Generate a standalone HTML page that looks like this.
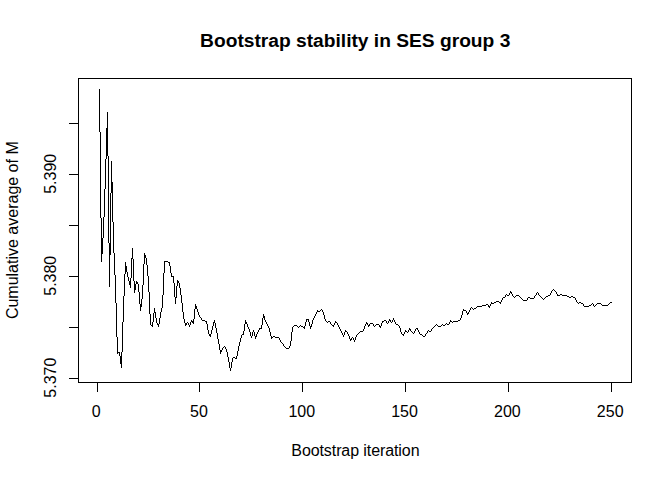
<!DOCTYPE html>
<html><head><meta charset="utf-8"><style>
html,body{margin:0;padding:0;background:#fff;}
svg{display:block;}
text{font-family:"Liberation Sans",sans-serif;font-size:16px;fill:#000;}
</style></head><body>
<svg width="672" height="480" viewBox="0 0 672 480">
<rect x="0" y="0" width="672" height="480" fill="#fff"/>
<text x="355.2" y="46.6" text-anchor="middle" style="font-weight:bold;font-size:19.2px">Bootstrap stability in SES group 3</text>
<rect x="78.5" y="78.5" width="553" height="304" fill="none" stroke="#000" stroke-width="1"/>
<g stroke="#000" stroke-width="1" fill="none"><line x1="97.5" y1="382.5" x2="97.5" y2="392" /><line x1="199.5" y1="382.5" x2="199.5" y2="392" /><line x1="302.5" y1="382.5" x2="302.5" y2="392" /><line x1="405.5" y1="382.5" x2="405.5" y2="392" /><line x1="508.5" y1="382.5" x2="508.5" y2="392" /><line x1="611.5" y1="382.5" x2="611.5" y2="392" /><line x1="69" y1="378.5" x2="78.5" y2="378.5" /><line x1="69" y1="327.5" x2="78.5" y2="327.5" /><line x1="69" y1="276.5" x2="78.5" y2="276.5" /><line x1="69" y1="225.5" x2="78.5" y2="225.5" /><line x1="69" y1="174.5" x2="78.5" y2="174.5" /><line x1="69" y1="123.5" x2="78.5" y2="123.5" /></g>
<path d="M99 89h1v43h-1zM100 132h1v86h-1zM101 218h1v44h-1zM102 238h1v16h-1zM103 217h1v21h-1zM104 189h1v28h-1zM105 159h1v30h-1zM106 128h1v31h-1zM107 112h1v44h-1zM108 156h1v87h-1zM109 243h1v44h-1zM110 193h1v62h-1zM111 161h1v32h-1zM112 182h1v40h-1zM113 222h1v31h-1zM114 253h1v22h-1zM115 275h1v28h-1zM116 303h1v34h-1zM117 337h1v17h-1zM118 352h1v1h-1zM119 352h1v4h-1zM120 356h1v8h-1zM121 352h1v16h-1zM122 322h1v30h-1zM123 296h1v26h-1zM124 274h1v22h-1zM125 262h1v12h-1zM126 266h1v6h-1zM127 272h1v5h-1zM128 277h1v4h-1zM129 281h1v4h-1zM130 278h1v10h-1zM131 258h1v20h-1zM132 248h1v11h-1zM133 259h1v22h-1zM134 281h1v12h-1zM135 284h1v6h-1zM136 281h1v3h-1zM137 282h1v2h-1zM138 284h1v8h-1zM139 292h1v12h-1zM140 304h1v7h-1zM141 299h1v8h-1zM142 285h1v14h-1zM143 264h1v21h-1zM144 253h1v11h-1zM145 255h1v3h-1zM146 258h1v7h-1zM147 265h1v11h-1zM148 276h1v16h-1zM149 292h1v22h-1zM150 314h1v11h-1zM151 325h1v1h-1zM152 322h1v5h-1zM153 313h1v9h-1zM154 308h1v5h-1zM155 312h1v6h-1zM156 318h1v5h-1zM157 323h1v2h-1zM158 324h1v3h-1zM159 318h1v6h-1zM160 312h1v6h-1zM161 308h1v4h-1zM162 295h1v13h-1zM163 273h1v22h-1zM164 261h1v12h-1zM165 261h1v1h-1zM166 261h1v1h-1zM167 261h1v1h-1zM168 262h1v1h-1zM169 262h1v4h-1zM170 266h1v7h-1zM171 273h1v4h-1zM172 276h1v1h-1zM173 276h1v7h-1zM174 283h1v14h-1zM175 297h1v7h-1zM176 286h1v12h-1zM177 280h1v6h-1zM178 281h1v2h-1zM179 283h1v5h-1zM180 288h1v7h-1zM181 295h1v8h-1zM182 303h1v9h-1zM183 312h1v7h-1zM184 319h1v4h-1zM185 323h1v3h-1zM186 323h1v2h-1zM187 322h1v1h-1zM188 323h1v2h-1zM189 325h1v2h-1zM190 322h1v3h-1zM191 320h1v2h-1zM192 321h1v2h-1zM193 319h1v5h-1zM194 309h1v10h-1zM195 304h1v5h-1zM196 306h1v3h-1zM197 309h1v3h-1zM198 312h1v3h-1zM199 315h1v2h-1zM200 317h1v1h-1zM201 318h1v2h-1zM202 320h1v1h-1zM203 320h1v1h-1zM204 320h1v1h-1zM205 321h1v1h-1zM206 321h1v3h-1zM207 324h1v6h-1zM208 330h1v4h-1zM209 334h1v2h-1zM210 334h1v3h-1zM211 330h1v4h-1zM212 326h1v4h-1zM213 322h1v4h-1zM214 320h1v3h-1zM215 323h1v5h-1zM216 328h1v5h-1zM217 333h1v6h-1zM218 339h1v5h-1zM219 344h1v6h-1zM220 350h1v4h-1zM221 350h1v2h-1zM222 348h1v2h-1zM223 347h1v1h-1zM224 346h1v1h-1zM225 347h1v2h-1zM226 349h1v3h-1zM227 352h1v5h-1zM228 357h1v5h-1zM229 362h1v6h-1zM230 368h1v3h-1zM231 362h1v6h-1zM232 358h1v4h-1zM233 357h1v1h-1zM234 357h1v1h-1zM235 358h1v1h-1zM236 356h1v3h-1zM237 351h1v5h-1zM238 346h1v5h-1zM239 342h1v4h-1zM240 338h1v4h-1zM241 335h1v3h-1zM242 334h1v1h-1zM243 331h1v4h-1zM244 324h1v7h-1zM245 320h1v4h-1zM246 322h1v2h-1zM247 324h1v3h-1zM248 327h1v2h-1zM249 329h1v3h-1zM250 332h1v4h-1zM251 336h1v2h-1zM252 332h1v4h-1zM253 330h1v2h-1zM254 332h1v4h-1zM255 336h1v3h-1zM256 334h1v3h-1zM257 332h1v2h-1zM258 330h1v2h-1zM259 328h1v2h-1zM260 328h1v1h-1zM261 325h1v4h-1zM262 318h1v7h-1zM263 314h1v4h-1zM264 316h1v4h-1zM265 320h1v2h-1zM266 322h1v2h-1zM267 324h1v2h-1zM268 326h1v2h-1zM269 328h1v4h-1zM270 332h1v4h-1zM271 336h1v3h-1zM272 337h1v1h-1zM273 336h1v1h-1zM274 336h1v1h-1zM275 337h1v1h-1zM276 337h1v1h-1zM277 337h1v1h-1zM278 337h1v1h-1zM279 338h1v2h-1zM280 340h1v2h-1zM281 342h1v1h-1zM282 343h1v1h-1zM283 344h1v2h-1zM284 346h1v1h-1zM285 347h1v1h-1zM286 348h1v1h-1zM287 348h1v1h-1zM288 348h1v1h-1zM289 346h1v2h-1zM290 341h1v5h-1zM291 332h1v9h-1zM292 327h1v5h-1zM293 326h1v1h-1zM294 325h1v1h-1zM295 325h1v1h-1zM296 325h1v1h-1zM297 326h1v1h-1zM298 327h1v1h-1zM299 326h1v1h-1zM300 325h1v1h-1zM301 326h1v1h-1zM302 326h1v1h-1zM303 327h1v1h-1zM304 326h1v3h-1zM305 322h1v4h-1zM306 319h1v3h-1zM307 319h1v1h-1zM308 319h1v3h-1zM309 322h1v4h-1zM310 326h1v3h-1zM311 324h1v3h-1zM312 320h1v4h-1zM313 318h1v2h-1zM314 316h1v2h-1zM315 314h1v2h-1zM316 312h1v2h-1zM317 310h1v2h-1zM318 311h1v1h-1zM319 311h1v1h-1zM320 310h1v1h-1zM321 309h1v1h-1zM322 310h1v2h-1zM323 312h1v3h-1zM324 315h1v4h-1zM325 319h1v2h-1zM326 321h1v1h-1zM327 322h1v1h-1zM328 321h1v1h-1zM329 321h1v1h-1zM330 322h1v2h-1zM331 324h1v1h-1zM332 325h1v1h-1zM333 325h1v2h-1zM334 323h1v2h-1zM335 321h1v2h-1zM336 322h1v1h-1zM337 323h1v2h-1zM338 325h1v2h-1zM339 327h1v2h-1zM340 329h1v2h-1zM341 331h1v2h-1zM342 333h1v2h-1zM343 335h1v2h-1zM344 332h1v3h-1zM345 330h1v2h-1zM346 331h1v1h-1zM347 332h1v2h-1zM348 334h1v2h-1zM349 336h1v3h-1zM350 339h1v2h-1zM351 338h1v2h-1zM352 337h1v1h-1zM353 338h1v2h-1zM354 340h1v2h-1zM355 337h1v3h-1zM356 335h1v2h-1zM357 334h1v1h-1zM358 333h1v1h-1zM359 332h1v1h-1zM360 331h1v1h-1zM361 331h1v1h-1zM362 331h1v1h-1zM363 329h1v2h-1zM364 326h1v3h-1zM365 324h1v2h-1zM366 322h1v2h-1zM367 323h1v2h-1zM368 325h1v2h-1zM369 324h1v2h-1zM370 323h1v1h-1zM371 323h1v1h-1zM372 323h1v1h-1zM373 324h1v2h-1zM374 326h1v1h-1zM375 325h1v1h-1zM376 324h1v1h-1zM377 324h1v1h-1zM378 324h1v1h-1zM379 325h1v2h-1zM380 326h1v2h-1zM381 323h1v3h-1zM382 321h1v2h-1zM383 321h1v1h-1zM384 320h1v1h-1zM385 320h1v1h-1zM386 321h1v2h-1zM387 323h1v1h-1zM388 321h1v2h-1zM389 319h1v2h-1zM390 320h1v2h-1zM391 322h1v1h-1zM392 320h1v2h-1zM393 318h1v2h-1zM394 320h1v2h-1zM395 322h1v2h-1zM396 324h1v1h-1zM397 324h1v1h-1zM398 325h1v1h-1zM399 326h1v2h-1zM400 328h1v4h-1zM401 332h1v2h-1zM402 334h1v1h-1zM403 334h1v2h-1zM404 332h1v2h-1zM405 330h1v2h-1zM406 331h1v1h-1zM407 332h1v1h-1zM408 330h1v2h-1zM409 328h1v2h-1zM410 329h1v2h-1zM411 331h1v1h-1zM412 332h1v1h-1zM413 333h1v1h-1zM414 331h1v2h-1zM415 329h1v2h-1zM416 328h1v1h-1zM417 328h1v2h-1zM418 330h1v2h-1zM419 332h1v2h-1zM420 334h1v1h-1zM421 334h1v1h-1zM422 335h1v1h-1zM423 336h1v1h-1zM424 336h1v1h-1zM425 334h1v2h-1zM426 333h1v1h-1zM427 331h1v2h-1zM428 330h1v1h-1zM429 331h1v1h-1zM430 331h1v1h-1zM431 329h1v2h-1zM432 328h1v1h-1zM433 327h1v1h-1zM434 326h1v1h-1zM435 325h1v1h-1zM436 324h1v1h-1zM437 325h1v1h-1zM438 326h1v1h-1zM439 326h1v1h-1zM440 326h1v1h-1zM441 325h1v1h-1zM442 324h1v1h-1zM443 325h1v1h-1zM444 325h1v1h-1zM445 324h1v1h-1zM446 323h1v1h-1zM447 324h1v1h-1zM448 324h1v1h-1zM449 322h1v2h-1zM450 320h1v2h-1zM451 321h1v1h-1zM452 322h1v1h-1zM453 321h1v1h-1zM454 321h1v1h-1zM455 321h1v1h-1zM456 321h1v1h-1zM457 321h1v1h-1zM458 320h1v1h-1zM459 320h1v1h-1zM460 318h1v2h-1zM461 315h1v3h-1zM462 311h1v4h-1zM463 309h1v2h-1zM464 310h1v1h-1zM465 310h1v1h-1zM466 311h1v2h-1zM467 313h1v2h-1zM468 312h1v2h-1zM469 310h1v2h-1zM470 308h1v2h-1zM471 307h1v1h-1zM472 308h1v1h-1zM473 309h1v1h-1zM474 308h1v1h-1zM475 308h1v1h-1zM476 307h1v1h-1zM477 306h1v1h-1zM478 306h1v1h-1zM479 306h1v1h-1zM480 306h1v1h-1zM481 306h1v1h-1zM482 305h1v1h-1zM483 305h1v1h-1zM484 305h1v1h-1zM485 305h1v1h-1zM486 304h1v1h-1zM487 304h1v1h-1zM488 305h1v2h-1zM489 306h1v2h-1zM490 304h1v2h-1zM491 302h1v2h-1zM492 303h1v1h-1zM493 303h1v1h-1zM494 302h1v1h-1zM495 302h1v1h-1zM496 301h1v1h-1zM497 301h1v1h-1zM498 301h1v1h-1zM499 302h1v1h-1zM500 302h1v2h-1zM501 300h1v2h-1zM502 298h1v2h-1zM503 297h1v1h-1zM504 297h1v1h-1zM505 295h1v2h-1zM506 294h1v1h-1zM507 295h1v1h-1zM508 295h1v1h-1zM509 293h1v2h-1zM510 291h1v2h-1zM511 292h1v2h-1zM512 294h1v2h-1zM513 296h1v1h-1zM514 297h1v1h-1zM515 296h1v1h-1zM516 295h1v1h-1zM517 295h1v1h-1zM518 295h1v1h-1zM519 296h1v1h-1zM520 297h1v1h-1zM521 298h1v1h-1zM522 299h1v1h-1zM523 300h1v1h-1zM524 300h1v1h-1zM525 300h1v1h-1zM526 300h1v1h-1zM527 298h1v2h-1zM528 297h1v1h-1zM529 297h1v1h-1zM530 298h1v1h-1zM531 298h1v1h-1zM532 298h1v1h-1zM533 298h1v1h-1zM534 296h1v2h-1zM535 295h1v1h-1zM536 293h1v2h-1zM537 292h1v1h-1zM538 293h1v2h-1zM539 295h1v1h-1zM540 296h1v1h-1zM541 297h1v1h-1zM542 298h1v1h-1zM543 299h1v1h-1zM544 298h1v1h-1zM545 297h1v1h-1zM546 296h1v1h-1zM547 296h1v1h-1zM548 295h1v1h-1zM549 295h1v1h-1zM550 293h1v2h-1zM551 291h1v2h-1zM552 290h1v1h-1zM553 289h1v1h-1zM554 290h1v1h-1zM555 291h1v1h-1zM556 292h1v2h-1zM557 294h1v2h-1zM558 295h1v1h-1zM559 295h1v1h-1zM560 294h1v1h-1zM561 294h1v1h-1zM562 295h1v1h-1zM563 295h1v1h-1zM564 295h1v1h-1zM565 295h1v1h-1zM566 295h1v1h-1zM567 296h1v1h-1zM568 296h1v1h-1zM569 297h1v1h-1zM570 297h1v1h-1zM571 296h1v1h-1zM572 296h1v1h-1zM573 297h1v1h-1zM574 297h1v1h-1zM575 298h1v2h-1zM576 300h1v2h-1zM577 302h1v1h-1zM578 303h1v1h-1zM579 302h1v1h-1zM580 302h1v1h-1zM581 303h1v1h-1zM582 303h1v1h-1zM583 304h1v2h-1zM584 306h1v1h-1zM585 306h1v1h-1zM586 306h1v1h-1zM587 306h1v1h-1zM588 306h1v1h-1zM589 305h1v1h-1zM590 305h1v1h-1zM591 304h1v1h-1zM592 303h1v1h-1zM593 304h1v2h-1zM594 306h1v1h-1zM595 305h1v1h-1zM596 304h1v1h-1zM597 303h1v1h-1zM598 303h1v1h-1zM599 303h1v1h-1zM600 303h1v1h-1zM601 304h1v1h-1zM602 305h1v1h-1zM603 305h1v1h-1zM604 305h1v1h-1zM605 305h1v1h-1zM606 305h1v1h-1zM607 305h1v1h-1zM608 304h1v1h-1zM609 303h1v1h-1zM610 302h1v1h-1zM611 302h1v1h-1z" fill="#000" shape-rendering="crispEdges"/>
<text x="96.14" y="416.8" text-anchor="middle">0</text><text x="198.95" y="416.8" text-anchor="middle">50</text><text x="301.76" y="416.8" text-anchor="middle">100</text><text x="404.57" y="416.8" text-anchor="middle">150</text><text x="507.38" y="416.8" text-anchor="middle">200</text><text x="610.20" y="416.8" text-anchor="middle">250</text>
<text transform="translate(55.5,377.70) rotate(-90)" text-anchor="middle">5.370</text><text transform="translate(55.5,275.75) rotate(-90)" text-anchor="middle">5.380</text><text transform="translate(55.5,173.80) rotate(-90)" text-anchor="middle">5.390</text>
<text x="355.4" y="455.8" text-anchor="middle" style="letter-spacing:-0.09px">Bootstrap iteration</text>
<text transform="translate(17.5,230.2) rotate(-90)" text-anchor="middle">Cumulative average of M</text>
</svg>
</body></html>
